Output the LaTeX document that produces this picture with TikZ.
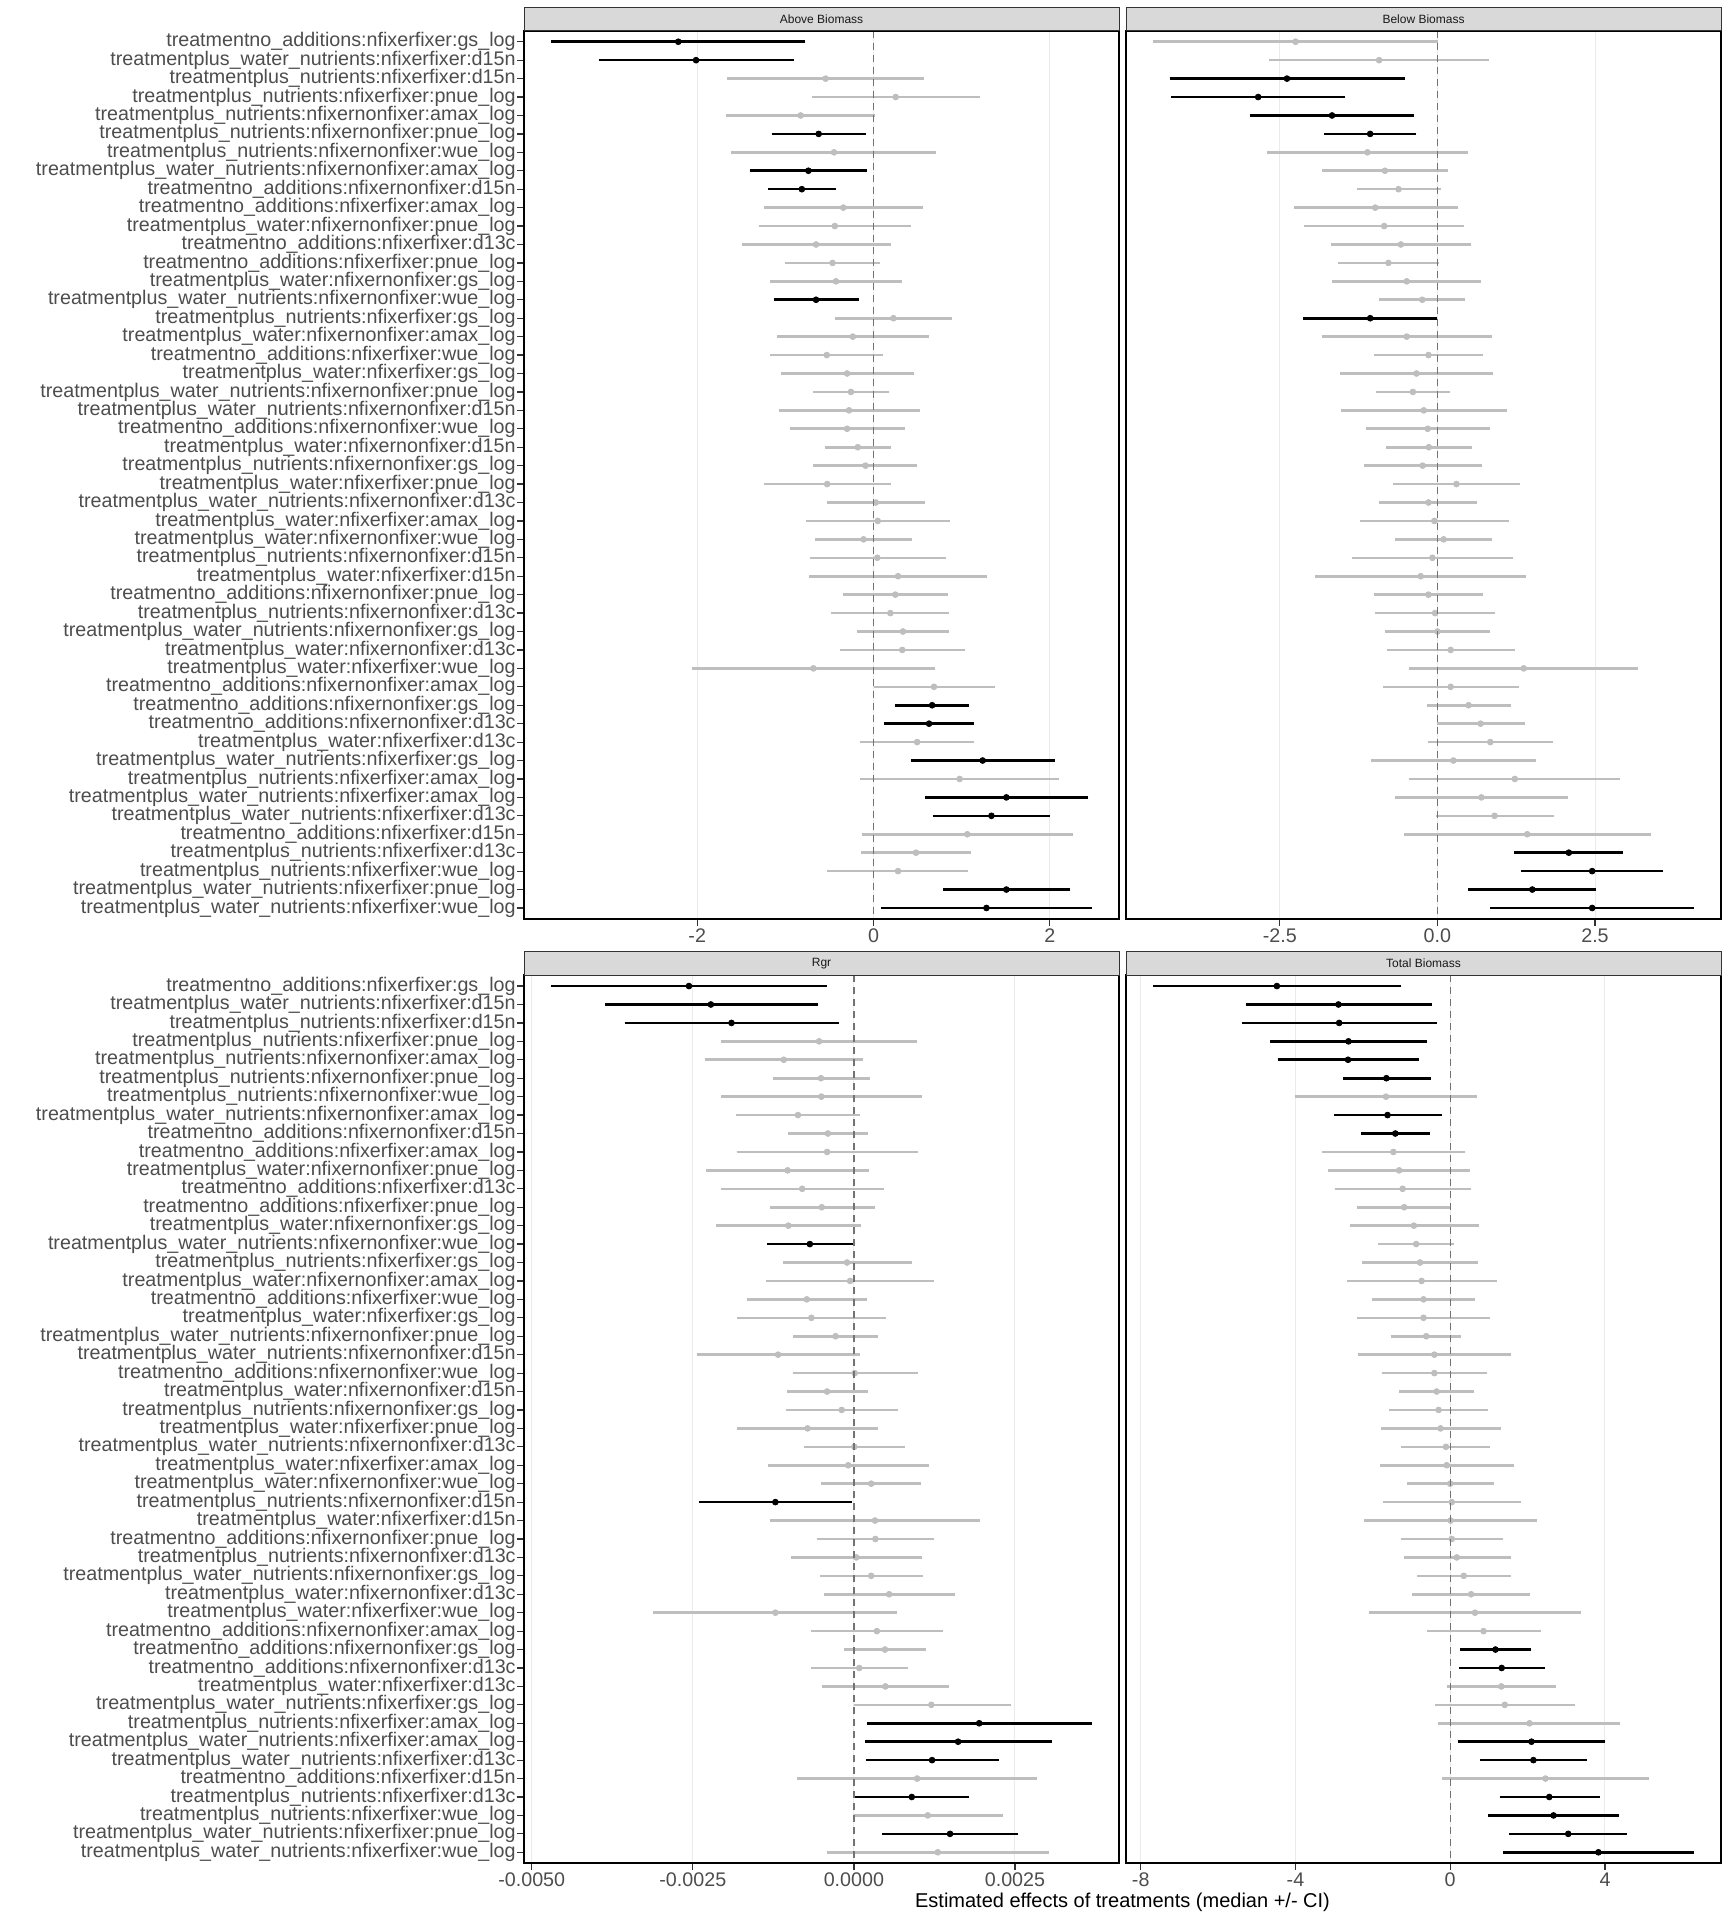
\documentclass[tikz,border=0pt]{standalone}
\usepackage{fontspec}
\setmainfont{Liberation Sans}
\definecolor{nsgray}{RGB}{190,190,190}
\definecolor{axgray}{RGB}{77,77,77}
\definecolor{gridgray}{RGB}{235,235,235}
\definecolor{stripgray}{RGB}{217,217,217}
\definecolor{stripline}{RGB}{51,51,51}
\tikzset{
  sig/.style={draw=black,fill=black},
  ns/.style={draw=nsgray,fill=nsgray},
  bar/.style={line width=1.3pt},
  gridline/.style={draw=gridgray,line width=0.5pt},
  zeroline/.style={draw=black!55,line width=0.6pt,dash pattern=on 3.5pt off 2.5pt},
  frame/.style={draw=black,line width=1pt},
  strip/.style={draw=stripline,fill=stripgray,line width=0.5pt},
  tickmark/.style={draw=stripline,line width=0.6pt},
  rowlabel/.style={anchor=east,inner sep=0pt,text=axgray,font=\fontsize{9.85}{10}\selectfont},
  ticklabel/.style={inner sep=0pt,text=axgray,font=\fontsize{9.85}{10}\selectfont},
  striplabel/.style={inner sep=0pt,text=black!90,font=\fontsize{6}{7}\selectfont},
  axistitle/.style={inner sep=0pt,font=\fontsize{10}{12}\selectfont}
}
\begin{document}
\begin{tikzpicture}[x=0.5pt,y=-0.5pt]
\useasboundingbox (0,0) rectangle (1728,1920);
%\draw[help lines] (0,0) grid (1728,1920);

% row labels, same order in both rows of panels
\foreach \r/\t in {1/treatmentno\_additions:nfixerfixer:gs\_log,
  2/treatmentplus\_water\_nutrients:nfixerfixer:d15n,
  3/treatmentplus\_nutrients:nfixerfixer:d15n,
  4/treatmentplus\_nutrients:nfixerfixer:pnue\_log,
  5/treatmentplus\_nutrients:nfixernonfixer:amax\_log,
  6/treatmentplus\_nutrients:nfixernonfixer:pnue\_log,
  7/treatmentplus\_nutrients:nfixernonfixer:wue\_log,
  8/treatmentplus\_water\_nutrients:nfixernonfixer:amax\_log,
  9/treatmentno\_additions:nfixernonfixer:d15n,
  10/treatmentno\_additions:nfixerfixer:amax\_log,
  11/treatmentplus\_water:nfixernonfixer:pnue\_log,
  12/treatmentno\_additions:nfixerfixer:d13c,
  13/treatmentno\_additions:nfixerfixer:pnue\_log,
  14/treatmentplus\_water:nfixernonfixer:gs\_log,
  15/treatmentplus\_water\_nutrients:nfixernonfixer:wue\_log,
  16/treatmentplus\_nutrients:nfixerfixer:gs\_log,
  17/treatmentplus\_water:nfixernonfixer:amax\_log,
  18/treatmentno\_additions:nfixerfixer:wue\_log,
  19/treatmentplus\_water:nfixerfixer:gs\_log,
  20/treatmentplus\_water\_nutrients:nfixernonfixer:pnue\_log,
  21/treatmentplus\_water\_nutrients:nfixernonfixer:d15n,
  22/treatmentno\_additions:nfixernonfixer:wue\_log,
  23/treatmentplus\_water:nfixernonfixer:d15n,
  24/treatmentplus\_nutrients:nfixernonfixer:gs\_log,
  25/treatmentplus\_water:nfixerfixer:pnue\_log,
  26/treatmentplus\_water\_nutrients:nfixernonfixer:d13c,
  27/treatmentplus\_water:nfixerfixer:amax\_log,
  28/treatmentplus\_water:nfixernonfixer:wue\_log,
  29/treatmentplus\_nutrients:nfixernonfixer:d15n,
  30/treatmentplus\_water:nfixerfixer:d15n,
  31/treatmentno\_additions:nfixernonfixer:pnue\_log,
  32/treatmentplus\_nutrients:nfixernonfixer:d13c,
  33/treatmentplus\_water\_nutrients:nfixernonfixer:gs\_log,
  34/treatmentplus\_water:nfixernonfixer:d13c,
  35/treatmentplus\_water:nfixerfixer:wue\_log,
  36/treatmentno\_additions:nfixernonfixer:amax\_log,
  37/treatmentno\_additions:nfixernonfixer:gs\_log,
  38/treatmentno\_additions:nfixernonfixer:d13c,
  39/treatmentplus\_water:nfixerfixer:d13c,
  40/treatmentplus\_water\_nutrients:nfixerfixer:gs\_log,
  41/treatmentplus\_nutrients:nfixerfixer:amax\_log,
  42/treatmentplus\_water\_nutrients:nfixerfixer:amax\_log,
  43/treatmentplus\_water\_nutrients:nfixerfixer:d13c,
  44/treatmentno\_additions:nfixerfixer:d15n,
  45/treatmentplus\_nutrients:nfixerfixer:d13c,
  46/treatmentplus\_nutrients:nfixerfixer:wue\_log,
  47/treatmentplus\_water\_nutrients:nfixerfixer:pnue\_log,
  48/treatmentplus\_water\_nutrients:nfixerfixer:wue\_log}
{
  \pgfmathsetmacro\yt{30.7+(\r-0.4)*18.43}
  \pgfmathsetmacro\yb{975+(\r-0.4)*18.43}
  \node[rowlabel] (lt\r) at (516,\yt) {\t};
  \node[rowlabel] (lb\r) at (516,\yb) {\t};
  \draw[tickmark] (517,\yt) -- (524,\yt);
  \draw[tickmark] (517,\yb) -- (524,\yb);
}

% Above Biomass
\begin{scope}[xshift=436.75pt,x=44.075pt]
\foreach \g in {-2,0,2}
  \draw[gridline] (\g,30.7) -- (\g,919);
\foreach \r/\lo/\md/\hi/\c in {1/-3.66/-2.215/-0.773/sig, 2/-3.117/-2.013/-0.904/sig,
  3/-1.661/-0.543/0.578/ns, 4/-0.70/0.252/1.209/ns, 5/-1.674/-0.826/0.022/ns,
  6/-1.157/-0.622/-0.087/sig, 7/-1.613/-0.448/0.713/ns, 8/-1.404/-0.739/-0.07/sig,
  9/-1.196/-0.813/-0.43/sig, 10/-1.248/-0.343/0.565/ns, 11/-1.304/-0.439/0.421/ns,
  12/-1.496/-0.652/0.196/ns, 13/-1.004/-0.465/0.074/ns, 14/-1.17/-0.426/0.321/ns,
  15/-1.13/-0.652/-0.165/sig, 16/-0.435/0.226/0.89/ns, 17/-1.10/-0.235/0.63/ns,
  18/-1.17/-0.53/0.113/ns, 19/-1.05/-0.30/0.456/ns, 20/-0.682/-0.256/0.174/ns,
  21/-1.077/-0.278/0.526/ns, 22/-0.951/-0.30/0.356/ns, 23/-0.556/-0.178/0.196/ns,
  24/-0.682/-0.091/0.495/ns, 25/-1.248/-0.526/0.196/ns, 26/-0.53/0.026/0.582/ns,
  27/-0.764/0.048/0.864/ns, 28/-0.66/-0.113/0.439/ns, 29/-0.725/0.043/0.817/ns,
  30/-0.734/0.278/1.29/ns, 31/-0.347/0.248/0.847/ns, 32/-0.478/0.191/0.86/ns,
  33/-0.187/0.334/0.86/ns, 34/-0.382/0.326/1.042/ns, 35/-2.054/-0.682/0.695/ns,
  36/0.0/0.686/1.377/ns, 37/0.239/0.665/1.086/sig, 38/0.122/0.63/1.142/sig,
  39/-0.152/0.495/1.142/ns, 40/0.421/1.238/2.054/sig, 41/-0.148/0.977/2.106/ns,
  42/0.582/1.507/2.436/sig, 43/0.673/1.338/2.006/sig, 44/-0.135/1.064/2.267/ns,
  45/-0.139/0.482/1.103/ns, 46/-0.526/0.278/1.077/ns, 47/0.79/1.507/2.228/sig,
  48/0.087/1.281/2.48/sig}
{
  \pgfmathsetmacro\yy{30.7+(\r-0.4)*18.43}
  \draw[bar,\c] (\lo,\yy) -- (\hi,\yy);
  \fill[\c] (\md,\yy) circle[radius=1.45pt];
}
\draw[zeroline] (0,30.7) -- (0,919);
\foreach \g/\t in {-2/-2,0/0,2/2}
{
  \draw[tickmark] (\g,919) -- (\g,926);
  \node[ticklabel] (ta\g) at (\g,936) {\t};
}
\end{scope}

% Below Biomass
\begin{scope}[xshift=718.7pt,x=31.515pt]
\foreach \g in {-2.5,0,2.5}
  \draw[gridline] (\g,30.7) -- (\g,919);
\foreach \r/\lo/\md/\hi/\c in {1/-4.51/-2.25/0.012/ns, 2/-2.665/-0.925/0.82/ns,
  3/-4.25/-2.387/-0.518/sig, 4/-4.22/-2.844/-1.474/sig, 5/-2.974/-1.672/-0.37/sig,
  6/-1.795/-1.067/-0.333/sig, 7/-2.702/-1.11/0.481/ns, 8/-1.832/-0.833/0.167/ns,
  9/-1.277/-0.617/0.056/ns, 10/-2.276/-0.987/0.327/ns, 11/-2.11/-0.845/0.426/ns,
  12/-1.69/-0.58/0.537/ns, 13/-1.579/-0.777/0.025/ns, 14/-1.666/-0.487/0.691/ns,
  15/-0.925/-0.241/0.444/ns, 16/-2.128/-1.067/-0.005/sig, 17/-1.832/-0.487/0.87/ns,
  18/-1.006/-0.142/0.728/ns, 19/-1.542/-0.333/0.876/ns, 20/-0.969/-0.389/0.197/ns,
  21/-1.53/-0.216/1.104/ns, 22/-1.135/-0.154/0.833/ns, 23/-0.808/-0.136/0.543/ns,
  24/-1.172/-0.234/0.703/ns, 25/-0.697/0.302/1.314/ns, 26/-0.925/-0.142/0.635/ns,
  27/-1.228/-0.049/1.129/ns, 28/-0.666/0.099/0.864/ns, 29/-1.357/-0.080/1.203/ns,
  30/-1.937/-0.265/1.407/ns, 31/-1.0/-0.142/0.728/ns, 32/-0.987/-0.037/0.913/ns,
  33/-0.827/0.0/0.833/ns, 34/-0.802/0.21/1.228/ns, 35/-0.444/1.37/3.183/ns,
  36/-0.87/0.21/1.296/ns, 37/-0.167/0.494/1.16/ns, 38/0.0/0.685/1.382/ns,
  39/-0.154/0.839/1.838/ns, 40/-1.049/0.253/1.567/ns, 41/-0.444/1.228/2.9/ns,
  42/-0.679/0.697/2.073/ns, 43/-0.025/0.907/1.857/ns, 44/-0.531/1.425/3.393/ns,
  45/1.221/2.085/2.943/sig, 46/1.333/2.455/3.584/sig, 47/0.487/1.505/2.523/sig,
  48/0.839/2.455/4.072/sig}
{
  \pgfmathsetmacro\yy{30.7+(\r-0.4)*18.43}
  \draw[bar,\c] (\lo,\yy) -- (\hi,\yy);
  \fill[\c] (\md,\yy) circle[radius=1.45pt];
}
\draw[zeroline] (0,30.7) -- (0,919);
\foreach \g/\t/\n in {-2.5/-2.5/1,0/0.0/2,2.5/2.5/3}
{
  \draw[tickmark] (\g,919) -- (\g,926);
  \node[ticklabel] (tb\n) at (\g,936) {\t};
}
\end{scope}

% Rgr (x in units of 0.001)
\begin{scope}[xshift=426.95pt,x=32.215pt]
\foreach \g in {-5,-2.5,0,2.5}
  \draw[gridline] (\g,975) -- (\g,1863.3);
\foreach \r/\lo/\md/\hi/\c in {1/-4.70/-2.56/-0.42/sig, 2/-3.86/-2.22/-0.55/sig,
  3/-3.56/-1.90/-0.226/sig, 4/-2.057/-0.541/0.975/ns, 5/-2.307/-1.088/0.137/ns,
  6/-1.26/-0.511/0.244/ns, 7/-2.063/-0.505/1.058/ns, 8/-1.831/-0.868/0.089/ns,
  9/-1.023/-0.404/0.214/ns, 10/-1.819/-0.416/0.987/ns, 11/-2.289/-1.029/0.232/ns,
  12/-2.063/-0.803/0.464/ns, 13/-1.308/-0.499/0.321/ns, 14/-2.14/-1.017/0.107/ns,
  15/-1.344/-0.684/-0.018/sig, 16/-1.094/-0.107/0.898/ns, 17/-1.367/-0.059/1.243/ns,
  18/-1.665/-0.731/0.208/ns, 19/-1.813/-0.66/0.493/ns, 20/-0.939/-0.285/0.381/ns,
  21/-2.438/-1.177/0.089/ns, 22/-0.951/0.012/0.987/ns, 23/-1.04/-0.416/0.214/ns,
  24/-1.058/-0.19/0.678/ns, 25/-1.807/-0.719/0.369/ns, 26/-0.767/0.006/0.791/ns,
  27/-1.338/-0.089/1.159/ns, 28/-0.505/0.268/1.046/ns, 29/-2.402/-1.219/-0.036/sig,
  30/-1.296/0.327/1.956/ns, 31/-0.577/0.333/1.249/ns, 32/-0.969/0.036/1.058/ns,
  33/-0.523/0.268/1.07/ns, 34/-0.47/0.547/1.576/ns, 35/-3.115/-1.219/0.672/ns,
  36/-0.672/0.357/1.385/ns, 37/-0.155/0.482/1.124/ns, 38/-0.666/0.083/0.844/ns,
  39/-0.488/0.488/1.474/ns, 40/0.0/1.201/2.432/ns, 41/0.196/1.944/3.698/sig,
  42/0.172/1.617/3.068/sig, 43/0.184/1.213/2.247/sig, 44/-0.88/0.981/2.836/ns,
  45/0.018/0.898/1.784/sig, 46/0.0/1.147/2.319/ns, 47/0.434/1.492/2.551/sig,
  48/-0.422/1.302/3.026/ns}
{
  \pgfmathsetmacro\yy{975+(\r-0.4)*18.43}
  \draw[bar,\c] (\lo,\yy) -- (\hi,\yy);
  \fill[\c] (\md,\yy) circle[radius=1.45pt];
}
\draw[zeroline] (0,975) -- (0,1863.3);
\foreach \g/\t/\n in {-5/-0.0050/1,-2.5/-0.0025/2,0/0.0000/3,2.5/0.0025/4}
{
  \draw[tickmark] (\g,1863.3) -- (\g,1870.3);
  \node[ticklabel] (tc\n) at (\g,1880) {\t};
}
\end{scope}

% Total Biomass
\begin{scope}[xshift=725.1pt,x=19.345pt]
\foreach \g in {-8,-4,0,4}
  \draw[gridline] (\g,975) -- (\g,1863.3);
\foreach \r/\lo/\md/\hi/\c in {1/-7.68/-4.48/-1.265/sig, 2/-5.29/-2.89/-0.48/sig,
  3/-5.37/-2.87/-0.35/sig, 4/-4.65/-2.63/-0.59/sig, 5/-4.46/-2.64/-0.81/sig,
  6/-2.77/-1.65/-0.50/sig, 7/-4.0/-1.66/0.69/ns, 8/-3.0/-1.62/-0.22/sig,
  9/-2.3/-1.42/-0.53/sig, 10/-3.31/-1.47/0.38/ns, 11/-3.15/-1.32/0.52/ns,
  12/-2.99/-1.23/0.53/ns, 13/-2.40/-1.19/0.0/ns, 14/-2.60/-0.94/0.74/ns,
  15/-1.87/-0.88/0.10/ns, 16/-2.28/-0.78/0.73/ns, 17/-2.66/-0.74/1.20/ns,
  18/-2.01/-0.69/0.64/ns, 19/-2.41/-0.69/1.03/ns, 20/-1.54/-0.62/0.29/ns,
  21/-2.39/-0.41/1.56/ns, 22/-1.77/-0.41/0.95/ns, 23/-1.32/-0.35/0.61/ns,
  24/-1.57/-0.30/0.97/ns, 25/-1.79/-0.25/1.30/ns, 26/-1.26/-0.11/1.04/ns,
  27/-1.81/-0.09/1.64/ns, 28/-1.11/0.0/1.12/ns, 29/-1.74/0.04/1.83/ns,
  30/-2.22/0.01/2.25/ns, 31/-1.27/0.04/1.36/ns, 32/-1.20/0.17/1.56/ns,
  33/-0.85/0.35/1.57/ns, 34/-0.98/0.54/2.07/ns, 35/-2.10/0.64/3.38/ns,
  36/-0.59/0.86/2.34/ns, 37/0.26/1.17/2.10/sig, 38/0.23/1.33/2.44/sig,
  39/-0.09/1.32/2.74/ns, 40/-0.39/1.41/3.22/ns, 41/-0.31/2.05/4.40/ns,
  42/0.19/2.10/4.01/sig, 43/0.77/2.15/3.53/sig, 44/-0.22/2.46/5.14/ns,
  45/1.28/2.56/3.86/sig, 46/0.97/2.67/4.37/sig, 47/1.53/3.05/4.58/sig,
  48/1.36/3.83/6.30/sig}
{
  \pgfmathsetmacro\yy{975+(\r-0.4)*18.43}
  \draw[bar,\c] (\lo,\yy) -- (\hi,\yy);
  \fill[\c] (\md,\yy) circle[radius=1.45pt];
}
\draw[zeroline] (0,975) -- (0,1863.3);
\foreach \g/\t/\n in {-8/-8/1,-4/-4/2,0/0/3,4/4/4}
{
  \draw[tickmark] (\g,1863.3) -- (\g,1870.3);
  \node[ticklabel] (td\n) at (\g,1880) {\t};
}
\end{scope}

% panel frames and strips
\foreach \x/\y/\t/\n in {524/30.7/Above Biomass/a, 1126/30.7/Below Biomass/b,
  524/975/Rgr/c, 1126/975/Total Biomass/d}
{
  \draw[frame] (\x,\y) rectangle ++(595,888.4);
  \draw[strip] (\x,\y) rectangle ++(595,-23.4);
  \node[striplabel] (s\n) at ([xshift=148.75pt,yshift=5.85pt]\x,\y) {\t};
}

\node[axistitle] (xtitle) at (1122.5,1902) {Estimated effects of treatments (median +/- CI)};
\end{tikzpicture}
\end{document}
